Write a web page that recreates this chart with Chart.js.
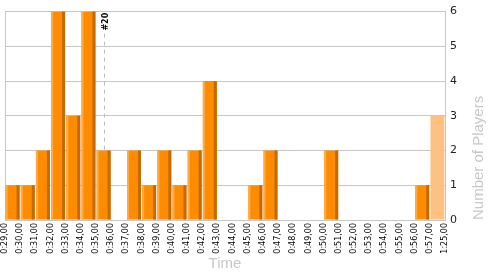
<!DOCTYPE html>
<html>
<head>
<meta charset="utf-8">
<script src="https://cdn.jsdelivr.net/npm/chart.js@4/dist/chart.umd.min.js"></script>
<style>
  html, body { margin: 0; padding: 0; background: #fff; }
  canvas { display: block; }
</style>
</head>
<body>
<canvas id="chart" width="500" height="275"></canvas>
<script>
// bin edges shown on the time axis
const binLabels = [
  '0:29,00', '0:30,00', '0:31,00', '0:32,00', '0:33,00', '0:34,00', '0:35,00', '0:36,00',
  '0:37,00', '0:38,00', '0:39,00', '0:40,00', '0:41,00', '0:42,00', '0:43,00', '0:44,00',
  '0:45,00', '0:46,00', '0:47,00', '0:48,00', '0:49,00', '0:50,00', '0:51,00', '0:52,00',
  '0:53,00', '0:54,00', '0:55,00', '0:56,00', '0:57,00', '1:25,00'
];
// players per bin (one value per gap between two labels)
const players = [1, 1, 2, 6, 3, 6, 2, 0, 2, 1, 2, 1, 2, 4, 0, 0, 1, 2, 0, 0, 0, 2, 0, 0, 0, 0, 0, 1, 3];
const yTicks = [0, 1, 2, 3, 4, 5, 6];
const markerBin = 6;
const markerText = '#20';

const ORANGE = '#ff8c00';
const LIGHT = '#ffab45';
const DARK = '#c46a00';
const PALE = '#ffc182';
const GRID = '#c6c6c6';

const lastIndex = players.length - 1;

// light left edge + dark right edge to get the bevelled look
const bevel = {
  id: 'bevel',
  afterDatasetsDraw(chart) {
    const ctx = chart.ctx;
    chart.getDatasetMeta(0).data.forEach((bar, i) => {
      if (i === lastIndex || players[i] === 0) return;
      const p = bar.getProps(['x', 'y', 'base', 'width'], true);
      const l = p.x - p.width / 2;
      const r = p.x + p.width / 2;
      ctx.save();
      ctx.fillStyle = LIGHT;
      ctx.fillRect(l, p.y, 2, p.base - p.y);
      ctx.fillStyle = DARK;
      ctx.fillRect(r - 3, p.y, 3, p.base - p.y);
      ctx.restore();
    });
  }
};

const markerX = chart => Math.round(chart.scales.x.getPixelForValue(markerBin + 0.5)) + 0.5;

const extras = {
  id: 'extras',
  beforeDatasetsDraw(chart) {
    // marker line sits behind the bars
    const ctx = chart.ctx;
    const area = chart.chartArea;
    const mx = markerX(chart);
    ctx.save();
    ctx.strokeStyle = '#bdbdbd';
    ctx.lineWidth = 1;
    ctx.setLineDash([4, 4]);
    ctx.beginPath();
    ctx.moveTo(mx, area.top + 22);
    ctx.lineTo(mx, area.bottom);
    ctx.stroke();
    ctx.restore();
  },
  afterDraw(chart) {
    const ctx = chart.ctx;
    const y = chart.scales.y;
    const area = chart.chartArea;
    const mx = markerX(chart);

    ctx.save();
    ctx.translate(mx + 1, area.top + 19);
    ctx.rotate(-Math.PI / 2);
    ctx.font = 'bold 8px "DejaVu Sans"';
    ctx.fillStyle = '#000';
    ctx.textAlign = 'left';
    ctx.textBaseline = 'middle';
    ctx.fillText(markerText, 0, 0);
    ctx.restore();

    // right axis title, reads bottom to top
    ctx.save();
    ctx.translate(y.right - 21, area.bottom);
    ctx.rotate(-Math.PI / 2);
    ctx.font = '15px "Liberation Sans"';
    ctx.fillStyle = '#c8c8c8';
    ctx.textAlign = 'left';
    ctx.textBaseline = 'middle';
    ctx.fillText('Number of Players', 0, 0);
    ctx.restore();
  }
};

new Chart(document.getElementById('chart'), {
  type: 'bar',
  data: {
    datasets: [{
      data: players.map((v, i) => ({ x: i + 0.5, y: v })),
      backgroundColor: ctx => ctx.dataIndex === lastIndex ? PALE : ORANGE,
      borderWidth: 0,
      barPercentage: 0.92,
      categoryPercentage: 1
    }]
  },
  options: {
    responsive: false,
    animation: false,
    devicePixelRatio: 1,
    layout: { padding: { left: 5, top: 10, right: 0, bottom: 0 } },
    plugins: { legend: { display: false }, tooltip: { enabled: false } },
    scales: {
      x: {
        type: 'linear',
        offset: false,
        min: 0,
        max: binLabels.length - 1,
        afterFit: s => { s.height = 55; },
        afterBuildTicks: s => { s.ticks = binLabels.map((_, i) => ({ value: i })); },
        ticks: {
          autoSkip: false,
          maxRotation: 90,
          minRotation: 90,
          padding: 3,
          color: '#000',
          font: { family: 'DejaVu Sans', size: 8 },
          callback: v => binLabels[v]
        },
        grid: {
          offset: false,
          drawTicks: false,
          color: c => (c.index === 0 ? GRID : 'rgba(0,0,0,0)')
        },
        border: { color: GRID },
        title: {
          display: true,
          text: 'Time',
          color: '#c8c8c8',
          font: { family: 'Liberation Sans', size: 15 },
          padding: { top: 0, bottom: 2 }
        }
      },
      y: {
        position: 'right',
        min: 0,
        max: 6,
        afterFit: s => { s.width = 55; },
        afterBuildTicks: s => { s.ticks = yTicks.map(v => ({ value: v })); },
        ticks: {
          padding: 5,
          color: '#222',
          font: { family: 'DejaVu Sans', size: 11 }
        },
        grid: { drawTicks: false, color: GRID },
        border: { color: GRID }
      }
    }
  },
  plugins: [bevel, extras]
});
</script>
</body>
</html>
